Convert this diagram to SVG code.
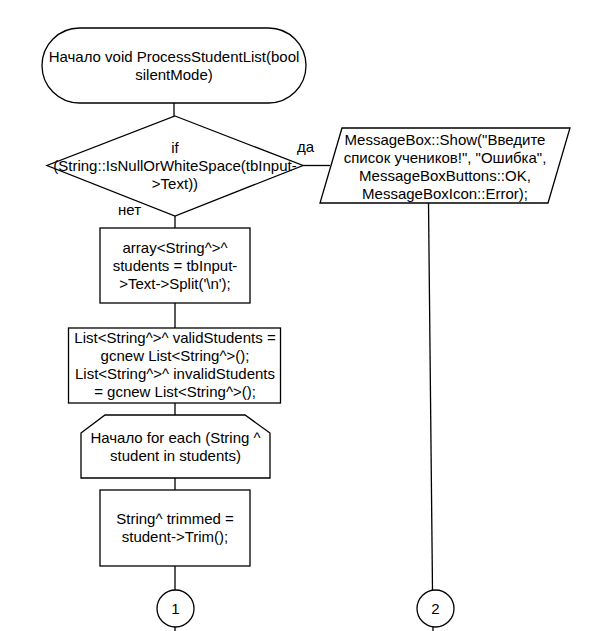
<svg xmlns="http://www.w3.org/2000/svg" width="604" height="631" viewBox="0 0 604 631">
<style>
.s{fill:#fff;stroke:#000;stroke-width:1.3}
.c{fill:none;stroke:#000;stroke-width:1.3}
text{font-family:"Liberation Sans",Arial,sans-serif;font-size:15px;fill:#000;text-anchor:middle}
.l{text-anchor:start}
</style>
<rect width="604" height="631" fill="#fff"/>
<g id="connectors">
<line class="c" x1="174" y1="103" x2="174" y2="116"/>
<line class="c" x1="303" y1="165.5" x2="330" y2="165.5"/>
<line class="c" x1="175" y1="216" x2="175" y2="228"/>
<line class="c" x1="175" y1="303" x2="175" y2="328"/>
<line class="c" x1="175" y1="403" x2="175" y2="415"/>
<line class="c" x1="175" y1="478" x2="175" y2="490"/>
<line class="c" x1="175" y1="566" x2="175" y2="590"/>
<line class="c" x1="175" y1="627" x2="175" y2="631"/>
<line class="c" x1="428.5" y1="203" x2="432.5" y2="590"/>
<line class="c" x1="433" y1="627" x2="433" y2="631"/>
</g>
<g id="start">
<rect class="s" x="42" y="28" width="264" height="75" rx="37.5" ry="37.5"/>
<text x="174" y="62">Начало void ProcessStudentList(bool</text>
<text x="174" y="80">silentMode)</text>
</g>
<g id="decision">
<polygon class="s" points="175,116 303,165.5 175,216 47,165.5"/>
<text x="175" y="153">if</text>
<text x="175" y="171">(String::IsNullOrWhiteSpace(tbInput-</text>
<text x="175" y="189">&gt;Text))</text>
</g>
<g id="label-yes"><text class="l" x="297" y="152">да</text></g>
<g id="label-no"><text class="l" x="118" y="215">нет</text></g>
<g id="msgbox">
<polygon class="s" points="342,128 570,128 548,203 320,203"/>
<text x="445" y="145">MessageBox::Show("Введите</text>
<text x="445" y="163">список учеников!", "Ошибка",</text>
<text x="445" y="181">MessageBoxButtons::OK,</text>
<text x="445" y="199">MessageBoxIcon::Error);</text>
</g>
<g id="split">
<rect class="s" x="100" y="228" width="150" height="75"/>
<text x="175" y="253">array&lt;String^&gt;^</text>
<text x="175" y="271">students = tbInput-</text>
<text x="175" y="289">&gt;Text-&gt;Split('\n');</text>
</g>
<g id="lists">
<rect class="s" x="68.5" y="328" width="212" height="75"/>
<text x="175" y="343">List&lt;String^&gt;^ validStudents =</text>
<text x="175" y="361">gcnew List&lt;String^&gt;();</text>
<text x="175" y="379">List&lt;String^&gt;^ invalidStudents</text>
<text x="175" y="397">= gcnew List&lt;String^&gt;();</text>
</g>
<g id="loop">
<polygon class="s" points="81,433 105,415 245,415 270,433 270,478 81,478"/>
<text x="175.5" y="443">Начало for each (String ^</text>
<text x="175.5" y="461">student in students)</text>
</g>
<g id="trim">
<rect class="s" x="100" y="490" width="150" height="76"/>
<text x="175" y="524">String^ trimmed =</text>
<text x="175" y="542">student-&gt;Trim();</text>
</g>
<g id="conn1">
<circle class="s" cx="175.5" cy="608.5" r="18.5"/>
<text x="175.5" y="614">1</text>
</g>
<g id="conn2">
<circle class="s" cx="435.5" cy="608.5" r="18.5"/>
<text x="435.5" y="614">2</text>
</g>
</svg>
